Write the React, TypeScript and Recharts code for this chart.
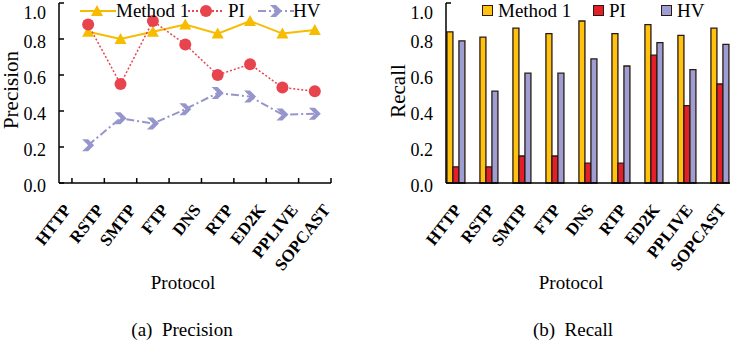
import React from 'react';
import {
  LineChart,
  Line,
  BarChart,
  Bar,
  XAxis,
  YAxis,
} from 'recharts';

// protocols on the x axis (both panels)
const protocols = ['HTTP', 'RSTP', 'SMTP', 'FTP', 'DNS', 'RTP', 'ED2K', 'PPLIVE', 'SOPCAST'];
const yTicks = [0, 0.2, 0.4, 0.6, 0.8, 1.0];

// (a) precision - 8 points drawn between the 9 protocol ticks
const precisionMethod1 = [0.84, 0.80, 0.84, 0.88, 0.83, 0.90, 0.83, 0.85];
const precisionPI = [0.88, 0.55, 0.90, 0.77, 0.60, 0.66, 0.53, 0.51];
const precisionHV = [0.21, 0.36, 0.33, 0.41, 0.50, 0.48, 0.38, 0.385];

// (b) recall
const recallMethod1 = [0.84, 0.81, 0.86, 0.83, 0.90, 0.83, 0.88, 0.82, 0.86];
const recallPI = [0.09, 0.09, 0.15, 0.15, 0.11, 0.11, 0.71, 0.43, 0.55];
const recallHV = [0.79, 0.51, 0.61, 0.61, 0.69, 0.65, 0.78, 0.63, 0.77];

const YELLOW = '#F7BB00';
const RED_LINE = '#E8444E';
const LAVENDER = '#9696CC';
const BAR_YELLOW = '#FFC20E';
const BAR_RED = '#E3202A';
const BAR_LAV = '#9E9ED2';
const OUTLINE = '#2a1a12';
const FONT = '"Liberation Serif", "Times New Roman", serif';

const precisionRows = precisionMethod1.map((v, i) => ({
  pos: i + 0.5,
  method1: v,
  pi: precisionPI[i],
  hv: precisionHV[i],
}));

const recallRows = protocols.map((name, i) => ({
  name,
  method1: recallMethod1[i],
  pi: recallPI[i],
  hv: recallHV[i],
}));

const Triangle = (props: any) => {
  const { cx, cy, fill } = props;
  if (cx == null || cy == null) return null;
  return <polygon points={`${cx},${cy - 6} ${cx + 6},${cy + 5} ${cx - 6},${cy + 5}`} fill={fill} />;
};

const Chevron = (props: any) => {
  const { cx, cy, fill } = props;
  if (cx == null || cy == null) return null;
  return (
    <polygon
      points={`${cx - 6},${cy - 6} ${cx},${cy - 6} ${cx + 6},${cy} ${cx},${cy + 6} ${cx - 6},${cy + 6} ${cx},${cy}`}
      fill={fill}
    />
  );
};

const Dot = (props: any) => {
  const { cx, cy, fill } = props;
  if (cx == null || cy == null) return null;
  return <circle cx={cx} cy={cy} r={6} fill={fill} />;
};

const YTick = (props: any) => {
  const { x, y, payload, showLine } = props;
  const top = payload.value === 1;
  return (
    <g>
      {showLine || top ? <line x1={x} x2={x + 5} y1={y} y2={y} stroke="#000" strokeWidth={1.5} /> : null}
      <text
        x={x - 13}
        y={top ? y + 10 : y + 3}
        textAnchor="end"
        dominantBaseline="central"
        fontFamily={FONT}
        fontSize={18}
        fill="#000"
      >
        {payload.value.toFixed(1)}
      </text>
    </g>
  );
};

const XTick = (props: any) => {
  const { x, y, payload, withLine, shift, labels } = props;
  const label = labels ? labels[payload.value] : payload.value;
  const tx = x + shift;
  const ty = y + 27;
  return (
    <g>
      {withLine ? <line x1={x} x2={x} y1={y} y2={y - 5} stroke="#000" strokeWidth={1.5} /> : null}
      <text
        x={tx}
        y={ty}
        transform={`rotate(-52 ${tx} ${ty})`}
        textAnchor="end"
        fontFamily={FONT}
        fontWeight="bold"
        fontSize={17}
        fill="#000"
      >
        {label}
      </text>
    </g>
  );
};

const text19: React.CSSProperties = { position: 'absolute', fontSize: 19, fontFamily: FONT, lineHeight: '22px', whiteSpace: 'pre', color: '#000' };

const lineLegend = [
  { name: 'Method 1', left: 80, textLeft: 116, color: YELLOW, dash: undefined, marker: 'tri' },
  { name: 'PI', left: 188, textLeft: 228, color: RED_LINE, dash: '2 2', marker: 'dot' },
  { name: 'HV', left: 258, textLeft: 293, color: LAVENDER, dash: '8 3 2 3', marker: 'chev' },
];

const barLegend = [
  { name: 'Method 1', left: 482, color: BAR_YELLOW },
  { name: 'PI', left: 593, color: BAR_RED },
  { name: 'HV', left: 661, color: BAR_LAV },
];

const AxisTitle = ({ cx, cy, children }: { cx: number; cy: number; children: string }) => (
  <svg style={{ position: 'absolute', left: cx - 14, top: cy - 50 }} width={28} height={100}>
    <text
      x={14}
      y={50}
      transform="rotate(-90 14 50)"
      textAnchor="middle"
      dominantBaseline="central"
      fontFamily={FONT}
      fontSize={21}
      fill="#000"
    >
      {children}
    </text>
  </svg>
);

export default function App() {
  return (
    <div style={{ position: 'absolute', left: 0, top: 0, width: 730, height: 341, overflow: 'hidden', background: '#fff', fontFamily: FONT }}>
      {/* (a) precision */}
      <div style={{ position: 'absolute', left: 0, top: 0 }}>
        <LineChart width={365} height={300} data={precisionRows} margin={{ top: 3, right: 34, bottom: 116, left: 58 }}>
          <XAxis
            type="number"
            dataKey="pos"
            domain={[-0.4, 8]}
            ticks={[0, 1, 2, 3, 4, 5, 6, 7, 8]}
            height={1}
            tickSize={0}
            tickMargin={0}
            axisLine={{ stroke: '#000', strokeWidth: 1.5 }}
            tick={<XTick withLine shift={0} labels={protocols} />}
            interval={0}
          />
          <YAxis
            type="number"
            domain={[0, 1]}
            ticks={yTicks}
            width={1}
            tickSize={0}
            tickMargin={0}
            axisLine={{ stroke: '#000', strokeWidth: 1.5 }}
            tick={<YTick showLine />}
            interval={0}
          />
          <Line dataKey="method1" stroke={YELLOW} strokeWidth={2} dot={<Triangle fill={YELLOW} />} isAnimationActive={false} />
          <Line dataKey="pi" stroke={RED_LINE} strokeWidth={1.5} strokeDasharray="2 2" dot={<Dot fill={RED_LINE} />} isAnimationActive={false} />
          <Line dataKey="hv" stroke={LAVENDER} strokeWidth={2} strokeDasharray="8 3 2 3" dot={<Chevron fill={LAVENDER} />} isAnimationActive={false} />
        </LineChart>
      </div>

      {lineLegend.map((s) => (
        <React.Fragment key={s.name}>
          <svg style={{ position: 'absolute', left: s.left, top: 3 }} width={36} height={16}>
            <line x1={0} x2={36} y1={8} y2={8} stroke={s.color} strokeWidth={2} strokeDasharray={s.dash} />
            {s.marker === 'tri' && <Triangle cx={17} cy={8} fill={s.color} />}
            {s.marker === 'dot' && <Dot cx={18} cy={8} fill={s.color} />}
            {s.marker === 'chev' && <Chevron cx={18} cy={8} fill={s.color} />}
          </svg>
          <div style={{ ...text19, left: s.textLeft, top: 0 }}>{s.name}</div>
        </React.Fragment>
      ))}

      <AxisTitle cx={11} cy={90}>Precision</AxisTitle>
      <div style={{ ...text19, left: 183, top: 283, transform: 'translate(-50%, -50%)' }}>Protocol</div>
      <div style={{ ...text19, left: 182, top: 330, transform: 'translate(-50%, -50%)' }}>{'(a)  Precision'}</div>

      {/* (b) recall */}
      <div style={{ position: 'absolute', left: 365, top: 0 }}>
        <BarChart
          width={372}
          height={300}
          data={recallRows}
          margin={{ top: 3, right: 0, bottom: 116, left: 80 }}
          barCategoryGap="21%"
          barGap={0}
        >
          <XAxis
            dataKey="name"
            height={1}
            tickSize={0}
            tickMargin={0}
            padding={{ left: -6, right: 0 }}
            axisLine={{ stroke: '#000', strokeWidth: 1.5 }}
            tick={<XTick shift={6} />}
            interval={0}
          />
          <YAxis
            type="number"
            domain={[0, 1]}
            ticks={yTicks}
            width={1}
            tickSize={0}
            tickMargin={0}
            axisLine={{ stroke: '#000', strokeWidth: 1.5 }}
            tick={<YTick />}
            interval={0}
          />
          <Bar dataKey="method1" fill={BAR_YELLOW} stroke={OUTLINE} strokeWidth={1.3} isAnimationActive={false} />
          <Bar dataKey="pi" fill={BAR_RED} stroke={OUTLINE} strokeWidth={1.3} isAnimationActive={false} />
          <Bar dataKey="hv" fill={BAR_LAV} stroke={OUTLINE} strokeWidth={1.3} isAnimationActive={false} />
        </BarChart>
      </div>

      {barLegend.map((s) => (
        <React.Fragment key={s.name}>
          <div style={{ position: 'absolute', left: s.left, top: 5, width: 9, height: 9, background: s.color, border: `1.3px solid ${OUTLINE}` }} />
          <div style={{ ...text19, left: s.left + 16, top: 0 }}>{s.name}</div>
        </React.Fragment>
      ))}

      <AxisTitle cx={398} cy={91}>Recall</AxisTitle>
      <div style={{ ...text19, left: 571, top: 283, transform: 'translate(-50%, -50%)' }}>Protocol</div>
      <div style={{ ...text19, left: 573, top: 330, transform: 'translate(-50%, -50%)' }}>{'(b)  Recall'}</div>
    </div>
  );
}
